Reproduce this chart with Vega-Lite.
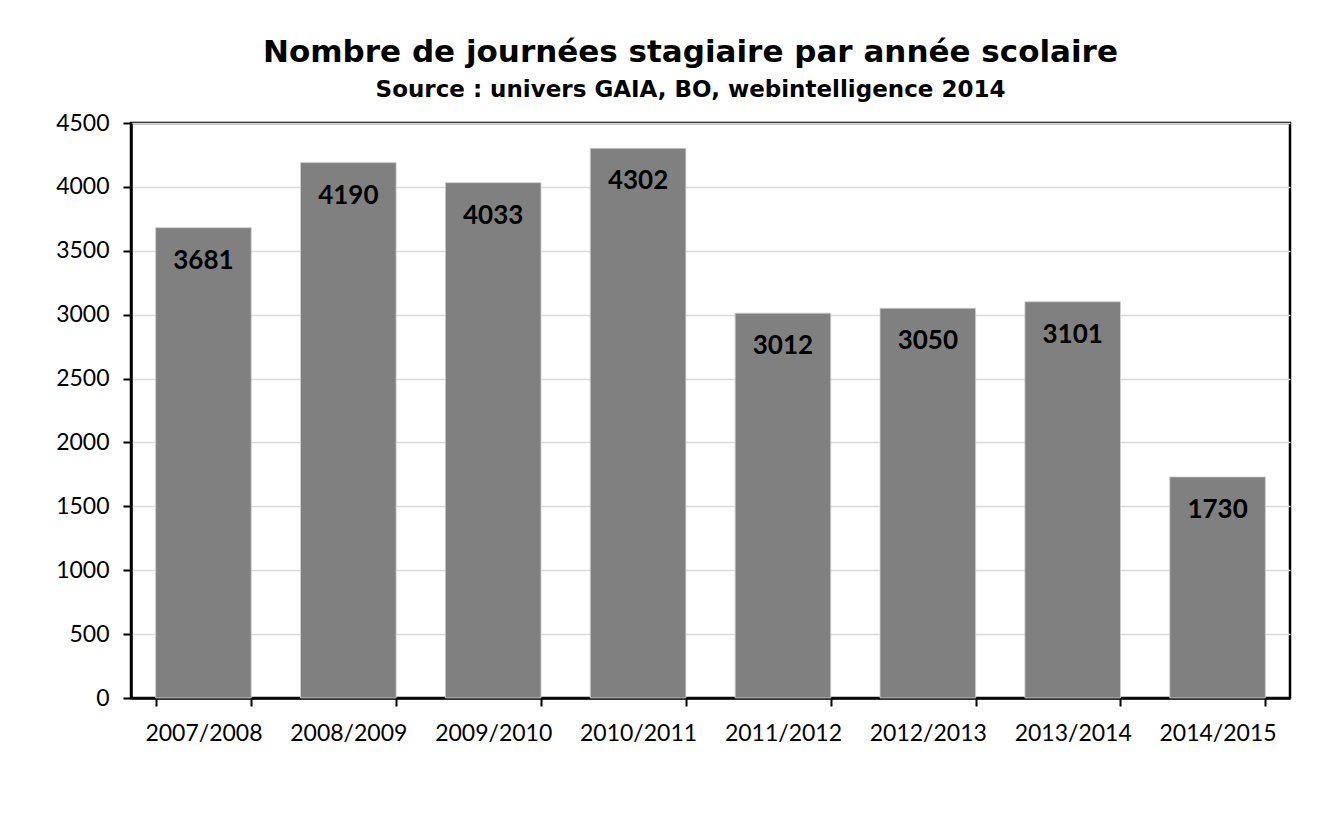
{
  "$schema": "https://vega.github.io/schema/vega-lite/v6.json",
  "autosize": {"type": "none"},
  "width": 1159,
  "height": 575,
  "padding": {"left": 131, "top": 123, "right": 40, "bottom": 118},
  "background": "white",
  "title": {
    "text": "Nombre de journées stagiaire par année scolaire",
    "subtitle": "Source : univers GAIA, BO, webintelligence 2014",
    "anchor": "middle",
    "frame": "group",
    "dx": -20,
    "offset": 9,
    "font": "DejaVu Sans",
    "fontSize": 31,
    "fontWeight": "bold",
    "color": "black",
    "subtitleFont": "DejaVu Sans",
    "subtitleFontSize": 23,
    "subtitleFontWeight": "bold",
    "subtitleColor": "black",
    "subtitlePadding": 10
  },
  "data": {
    "values": [
      {"annee": "2007/2008", "jours": 3681},
      {"annee": "2008/2009", "jours": 4190},
      {"annee": "2009/2010", "jours": 4033},
      {"annee": "2010/2011", "jours": 4302},
      {"annee": "2011/2012", "jours": 3012},
      {"annee": "2012/2013", "jours": 3050},
      {"annee": "2013/2014", "jours": 3101},
      {"annee": "2014/2015", "jours": 1730}
    ]
  },
  "encoding": {
    "x": {
      "field": "annee",
      "type": "nominal",
      "sort": null,
      "scale": {"paddingInner": 0.34, "paddingOuter": 0.17},
      "axis": {
        "title": null,
        "labelAngle": 0,
        "labelFont": "Lato",
        "labelFontSize": 23,
        "labelColor": "black",
        "labelPadding": 16,
        "tickBand": "extent",
        "tickSize": 8,
        "tickWidth": 2,
        "tickColor": "black",
        "domainColor": "black",
        "domainWidth": 2.5,
        "grid": false
      }
    },
    "y": {
      "field": "jours",
      "type": "quantitative",
      "scale": {"domain": [0, 4500], "nice": false},
      "axis": {
        "title": null,
        "format": "d",
        "values": [0, 500, 1000, 1500, 2000, 2500, 3000, 3500, 4000, 4500],
        "labelFont": "Lato",
        "labelFontSize": 23,
        "labelColor": "black",
        "labelPadding": 14,
        "tickSize": 8,
        "tickWidth": 2,
        "tickColor": "black",
        "domainColor": "black",
        "domainWidth": 2.5,
        "grid": true,
        "gridColor": "#d9d9d9",
        "gridWidth": 1.5
      }
    }
  },
  "layer": [
    {
      "mark": {"type": "bar", "color": "#808080", "stroke": "#cfcfcf", "strokeWidth": 0.8}
    },
    {
      "mark": {
        "type": "text",
        "baseline": "top",
        "dy": 20,
        "font": "Lato",
        "fontSize": 26,
        "fontWeight": "bold",
        "color": "black"
      },
      "encoding": {"text": {"field": "jours", "type": "quantitative", "format": "d"}}
    }
  ],
  "config": {
    "view": {"stroke": "black", "strokeWidth": 2.5}
  }
}
